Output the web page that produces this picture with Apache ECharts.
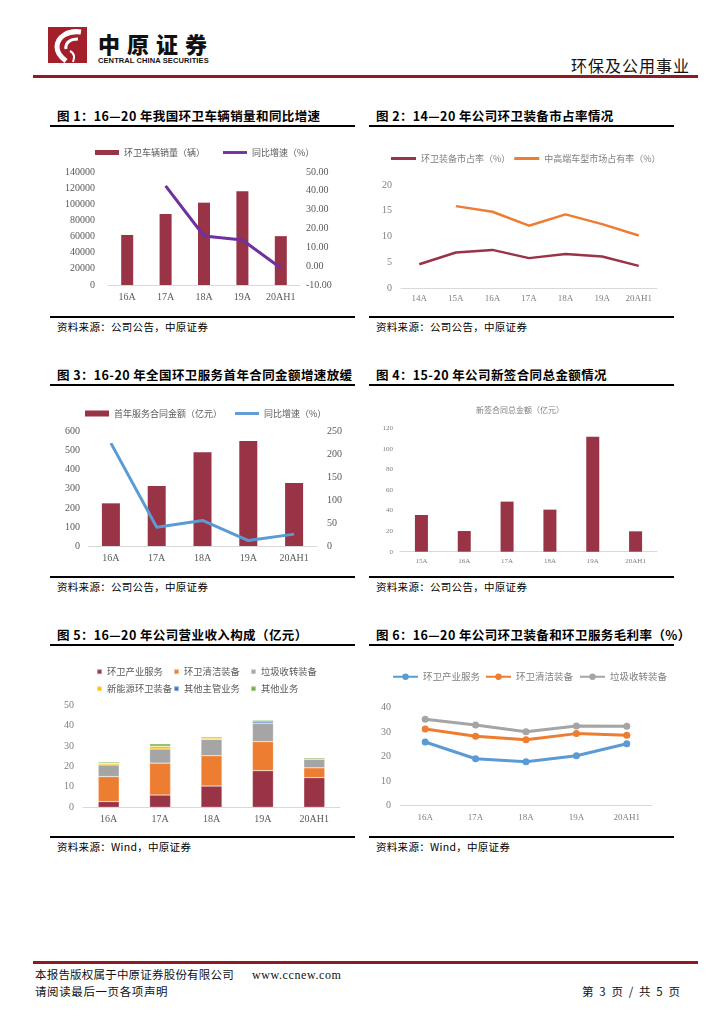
<!DOCTYPE html>
<html><head><meta charset="utf-8">
<script src="https://cdn.jsdelivr.net/npm/echarts@6/dist/echarts.min.js"></script>
<style>
body{margin:0;width:724px;height:1024px;position:relative;background:#fff;font-family:"Noto Sans CJK SC",sans-serif;overflow:hidden}
.abs{position:absolute;white-space:nowrap}
.ftitle{position:absolute;font-size:12.5px;font-weight:bold;color:#000;white-space:nowrap;line-height:14px;letter-spacing:0.4px}
.hr{position:absolute;height:2px;background:#000}
.src{position:absolute;font-size:10.5px;color:#000;white-space:nowrap;line-height:12px;letter-spacing:0.3px}
.chart{position:absolute}
</style></head><body>
<!-- header -->
<svg class="abs" style="left:48px;top:27px" width="39" height="36" viewBox="0 0 39 36">
  <rect x="0" y="0" width="39" height="36" fill="#A3202B"/>
  <path d="M33 5 C20 3 9 10 9 20 C9 27 14 31 18 34" stroke="#fff" stroke-width="5" fill="none"/>
  <path d="M30 12 C22 12 17 16 18 22" stroke="#fff" stroke-width="3" fill="none"/>
  <path d="M22 24 C26 26 27 30 25 35" stroke="#fff" stroke-width="2" fill="none"/>
</svg>
<div class="abs" style="left:98px;top:30px;font-size:22px;font-weight:900;letter-spacing:7px;line-height:26px;color:#111">中原证券</div>
<div class="abs" style="left:98px;top:56px;font-size:7.5px;font-weight:bold;font-family:'Liberation Sans Narrow','Liberation Sans',sans-serif;line-height:9px;color:#111;letter-spacing:0.1px">CENTRAL CHINA SECURITIES</div>
<div class="abs" style="left:571px;top:55px;font-size:16px;line-height:20px;color:#111;letter-spacing:1px">环保及公用事业</div>
<div class="abs" style="left:33px;top:75px;width:665px;height:2.5px;background:#8E1B22"></div>

<!-- row 1 -->
<div class="ftitle" style="left:57px;top:109px">图 1：16—20 年我国环卫车辆销量和同比增速</div>
<div class="hr" style="left:50px;top:125px;width:305px"></div>
<div class="ftitle" style="left:376px;top:109px">图 2：14—20 年公司环卫装备市占率情况</div>
<div class="hr" style="left:369px;top:125px;width:305px"></div>
<div id="c1" class="chart" style="left:50px;top:130px;width:305px;height:185px"></div>
<div id="c2" class="chart" style="left:365px;top:130px;width:310px;height:185px"></div>
<div class="hr" style="left:50px;top:316px;width:305px;height:1.5px"></div>
<div class="hr" style="left:369px;top:316px;width:305px;height:1.5px"></div>
<div class="src" style="left:57px;top:321px">资料来源：公司公告，中原证券</div>
<div class="src" style="left:376px;top:321px">资料来源：公司公告，中原证券</div>

<!-- row 2 -->
<div class="ftitle" style="left:57px;top:368px">图 3：16-20 年全国环卫服务首年合同金额增速放缓</div>
<div class="hr" style="left:50px;top:384px;width:305px"></div>
<div class="ftitle" style="left:376px;top:368px">图 4：15-20 年公司新签合同总金额情况</div>
<div class="hr" style="left:369px;top:384px;width:305px"></div>
<div id="c3" class="chart" style="left:50px;top:390px;width:305px;height:185px"></div>
<div id="c4" class="chart" style="left:365px;top:390px;width:310px;height:185px"></div>
<div class="hr" style="left:50px;top:576px;width:305px;height:1.5px"></div>
<div class="hr" style="left:369px;top:576px;width:305px;height:1.5px"></div>
<div class="src" style="left:57px;top:581px">资料来源：公司公告，中原证券</div>
<div class="src" style="left:376px;top:581px">资料来源：公司公告，中原证券</div>

<!-- row 3 -->
<div class="ftitle" style="left:57px;top:628px">图 5：16—20 年公司营业收入构成（亿元）</div>
<div class="hr" style="left:50px;top:644px;width:305px"></div>
<div class="ftitle" style="left:376px;top:628px">图 6：16—20 年公司环卫装备和环卫服务毛利率（%）</div>
<div class="hr" style="left:369px;top:644px;width:305px"></div>
<div id="c5" class="chart" style="left:50px;top:650px;width:305px;height:185px"></div>
<div id="c6" class="chart" style="left:365px;top:650px;width:310px;height:185px"></div>
<div class="hr" style="left:50px;top:836px;width:305px;height:1.5px"></div>
<div class="hr" style="left:369px;top:836px;width:305px;height:1.5px"></div>
<div class="src" style="left:57px;top:841px">资料来源：Wind，中原证券</div>
<div class="src" style="left:376px;top:841px">资料来源：Wind，中原证券</div>

<!-- footer -->
<div class="abs" style="left:33px;top:961px;width:665px;height:2.5px;background:#8E1B22"></div>
<div class="abs" style="left:35px;top:967px;font-size:11.5px;line-height:15px;color:#111;letter-spacing:0.2px">本报告版权属于中原证券股份有限公司<span style="margin-left:18px;font-family:'Liberation Serif',serif;font-size:12px;letter-spacing:0.6px">www.ccnew.com</span></div>
<div class="abs" style="left:35px;top:984px;font-size:11.5px;line-height:15px;color:#111;letter-spacing:0.6px">请阅读最后一页各项声明</div>
<div class="abs" style="left:582px;top:984px;font-size:11.5px;line-height:15px;color:#111;letter-spacing:1.6px">第 3 页 / 共 5 页</div>

<script>
// ---------- data ----------
const c1Categories = ['16A', '17A', '18A', '19A', '20AH1'];
const c1Sales = [62000, 88000, 102000, 116000, 60500];
const c1Growth = [null, 42.6, 16.0, 13.9, -1.0];

const c2Categories = ['14A', '15A', '16A', '17A', '18A', '19A', '20AH1'];
const c2Share = [4.6, 6.9, 7.4, 5.8, 6.6, 6.1, 4.3];
const c2HighEndShare = [null, 15.9, 14.8, 12.1, 14.3, 12.4, 10.2];

const c3Categories = ['16A', '17A', '18A', '19A', '20AH1'];
const c3Amount = [224, 315, 492, 551, 331];
const c3Growth = [225, 41, 56, 12, 26];

const c4Categories = ['15A', '16A', '17A', '18A', '19A', '20AH1'];
const c4Amount = [35.7, 20.1, 48.7, 40.9, 111.9, 19.8];

const c5Categories = ['16A', '17A', '18A', '19A', '20AH1'];
const c5Service = [2.8, 6.0, 10.4, 17.9, 14.5];
const c5Cleaning = [12.2, 15.6, 14.8, 14.2, 4.8];
const c5Garbage = [5.7, 6.9, 8.0, 9.1, 4.3];
const c5NewEnergy = [0.8, 1.4, 0.7, 0, 0];
const c5OtherMain = [0, 0, 0, 0.9, 0];
const c5Other = [0.6, 1.1, 0.6, 0.5, 0.6];

const c6Categories = ['16A', '17A', '18A', '19A', '20AH1'];
const c6Service = [25.9, 19.1, 17.9, 20.3, 25.2];
const c6Cleaning = [31.2, 28.2, 26.8, 29.3, 28.6];
const c6Garbage = [35.1, 32.8, 30.1, 32.4, 32.3];

// ---------- styles ----------
const MAROON = '#993346', ORANGE = '#ED7D31', GRAY = '#A5A5A5', YELLOW = '#FFC000', BLUE = '#4472C4', GREEN = '#70AD47', LBLUE = '#5B9BD5', PURPLE = '#7030A0';
const NUMF = "'Liberation Serif','Noto Sans CJK SC',serif";
const CJK = "'Noto Sans CJK SC',sans-serif";
const axisLineC = '#D9D9D9';
const LINE_ICON = 'path://M0,0 L25,0 L25,3 L0,3 Z';

function catAxis(data, fs, color, margin) {
  return {type: 'category', data: data, axisTick: {show: false},
    axisLine: {lineStyle: {color: axisLineC, width: 1}},
    axisLabel: {color: color, fontSize: fs, fontFamily: NUMF, margin: margin, letterSpacing: 1}};
}
function valAxis(min, max, interval, fs, color, margin, fmt) {
  return {type: 'value', min: min, max: max, interval: interval,
    splitLine: {show: false}, axisLine: {show: false}, axisTick: {show: false},
    axisLabel: {color: color, fontSize: fs, fontFamily: NUMF, margin: margin, formatter: fmt || (v => String(v))}};
}
const legText = (fs, c, ls) => ({fontSize: fs, color: c || '#595959', fontFamily: CJK, letterSpacing: ls === undefined ? 0.9 : ls});

// chart 1
echarts.init(document.getElementById('c1')).setOption({
  animation: false,
  legend: {left: 40, top: 13, itemGap: 18, itemWidth: 24, itemHeight: 5, textStyle: legText(9),
    data: [{name: '环卫车辆销量（辆）', icon: 'rect'}, {name: '同比增速（%）', icon: LINE_ICON}]},
  grid: {left: 58, top: 42, width: 192, height: 113},
  xAxis: catAxis(c1Categories, 10, '#595959', 7),
  yAxis: [valAxis(0, 140000, 20000, 10, '#595959', 13),
          valAxis(-10, 50, 10, 10, '#595959', 6, v => v.toFixed(2))],
  series: [
    {name: '环卫车辆销量（辆）', type: 'bar', data: c1Sales, barWidth: 12, itemStyle: {color: MAROON}},
    {name: '同比增速（%）', type: 'line', yAxisIndex: 1, data: c1Growth, symbol: 'none', lineStyle: {color: PURPLE, width: 3}, itemStyle: {color: PURPLE}}
  ]
});

// chart 2
echarts.init(document.getElementById('c2')).setOption({
  animation: false,
  legend: {left: 21, top: 19, itemGap: 4, itemWidth: 25, itemHeight: 8, textStyle: legText(9, '#7f7f7f', 0.6),
    data: [{name: '环卫装备市占率（%）', icon: LINE_ICON}, {name: '中高端车型市场占有率（%）', icon: LINE_ICON}]},
  grid: {left: 36, top: 55, width: 256, height: 103},
  xAxis: catAxis(c2Categories, 9, '#7f7f7f', 6),
  yAxis: valAxis(0, 20, 5, 10, '#7f7f7f', 9),
  series: [
    {name: '环卫装备市占率（%）', type: 'line', data: c2Share, symbol: 'none', lineStyle: {color: MAROON, width: 2.5}, itemStyle: {color: MAROON}},
    {name: '中高端车型市场占有率（%）', type: 'line', data: c2HighEndShare, symbol: 'none', lineStyle: {color: ORANGE, width: 2.5}, itemStyle: {color: ORANGE}}
  ]
});

// chart 3
echarts.init(document.getElementById('c3')).setOption({
  animation: false,
  legend: {left: 30, top: 14, itemGap: 13, itemWidth: 24, itemHeight: 6, textStyle: legText(9),
    data: [{name: '首年服务合同金额（亿元）', icon: 'rect'}, {name: '同比增速（%）', icon: LINE_ICON}]},
  grid: {left: 38, top: 41.7, width: 229, height: 114.3},
  xAxis: catAxis(c3Categories, 10, '#595959', 7),
  yAxis: [valAxis(0, 600, 100, 10, '#595959', 8), valAxis(0, 250, 50, 10, '#595959', 10)],
  series: [
    {name: '首年服务合同金额（亿元）', type: 'bar', data: c3Amount, barWidth: 18, itemStyle: {color: MAROON}},
    {name: '同比增速（%）', type: 'line', yAxisIndex: 1, data: c3Growth, symbol: 'none', lineStyle: {color: LBLUE, width: 3}, itemStyle: {color: LBLUE}}
  ]
});

// chart 4
echarts.init(document.getElementById('c4')).setOption({
  animation: false,
  title: {text: '新签合同总金额（亿元）', left: 'center', top: 11, textStyle: {fontSize: 8, color: '#7f7f7f', fontWeight: 'normal', fontFamily: CJK, letterSpacing: 0.6}},
  grid: {left: 35, top: 38.3, width: 257, height: 123.4},
  xAxis: catAxis(c4Categories, 7, '#7f7f7f', 6),
  yAxis: valAxis(0, 120, 20, 7, '#7f7f7f', 7),
  series: [{name: '新签合同总金额（亿元）', type: 'bar', data: c4Amount, barWidth: 13, itemStyle: {color: MAROON}}]
});

// chart 5
const c5Names = ['环卫产业服务', '环卫清洁装备', '垃圾收转装备', '新能源环卫装备', '其他主管业务', '其他业务'];
const c5Data = [c5Service, c5Cleaning, c5Garbage, c5NewEnergy, c5OtherMain, c5Other];
const c5Colors = [MAROON, ORANGE, GRAY, YELLOW, BLUE, GREEN];
const c5LegPos = [[41, 12], [118, 12], [195, 12], [41, 29], [118, 29], [195, 29]];
echarts.init(document.getElementById('c5')).setOption({
  animation: false,
  legend: c5Names.map((n, i) => ({left: c5LegPos[i][0], top: c5LegPos[i][1], itemWidth: 5, itemHeight: 5, textStyle: legText(9.3, '#595959', 0), data: [{name: n, icon: 'rect'}]})),
  grid: {left: 33, top: 55, width: 257, height: 102.3},
  xAxis: catAxis(c5Categories, 10, '#595959', 7),
  yAxis: valAxis(0, 50, 10, 10, '#7f7f7f', 9),
  series: c5Names.map((n, i) => ({name: n, type: 'bar', stack: 'rev', data: c5Data[i], barWidth: 21,
    itemStyle: {color: c5Colors[i], borderColor: 'rgba(255,255,255,0.5)', borderWidth: 0.5}}))
});

// chart 6
const c6Names = ['环卫产业服务', '环卫清洁装备', '垃圾收转装备'];
const c6Data = [c6Service, c6Cleaning, c6Garbage];
const c6Colors = [LBLUE, ORANGE, GRAY];
const c6LegPos = [22, 115, 209];
echarts.init(document.getElementById('c6')).setOption({
  animation: false,
  legend: c6Names.map((n, i) => ({left: c6LegPos[i], top: 17, itemWidth: 25, itemHeight: 8, textStyle: legText(9.5, '#7f7f7f', 0.3), data: [n]})),
  grid: {left: 35, top: 57.3, width: 252, height: 98.4},
  xAxis: catAxis(c6Categories, 9, '#7f7f7f', 7),
  yAxis: valAxis(0, 40, 10, 10, '#7f7f7f', 9),
  series: c6Names.map((n, i) => ({name: n, type: 'line', data: c6Data[i], symbol: 'circle', symbolSize: 7,
    lineStyle: {color: c6Colors[i], width: 3}, itemStyle: {color: c6Colors[i]}}))
});
</script>
</body></html>
